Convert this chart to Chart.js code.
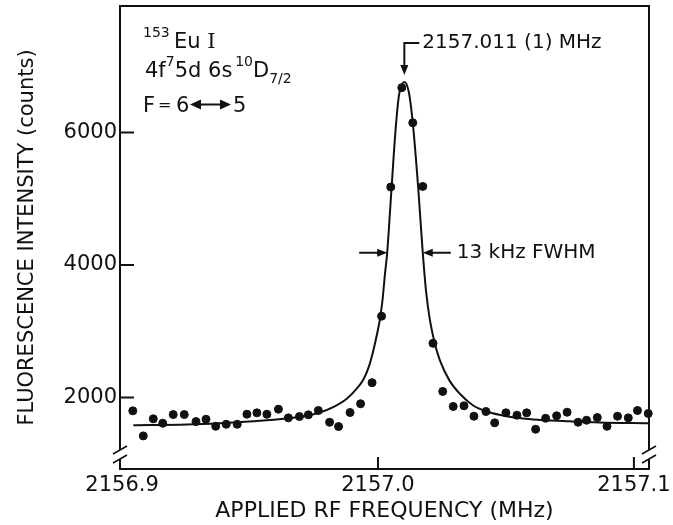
<!DOCTYPE html>
<html>
<head>
<meta charset="utf-8">
<script src="https://cdn.jsdelivr.net/npm/chart.js@4.4.1/dist/chart.umd.min.js"></script>
<style>
  html, body { margin: 0; padding: 0; background: #fff; }
  canvas { display: block; }
</style>
</head>
<body>
<canvas id="euChart" width="673" height="525"></canvas>
<script>
// measured points (frequency in MHz, fluorescence counts)
const dotFreq = [
    2156.9042, 2156.9083, 2156.9122, 2156.9159, 2156.9200, 2156.9243, 2156.9289, 2156.9328,
    2156.9366, 2156.9407, 2156.9450, 2156.9488, 2156.9527, 2156.9566, 2156.9611, 2156.9650,
    2156.9693, 2156.9728, 2156.9767, 2156.9811, 2156.9846, 2156.9891, 2156.9932, 2156.9977,
    2157.0014, 2157.0050, 2157.0093, 2157.0136, 2157.0175, 2157.0215,
    2157.0253, 2157.0294, 2157.0336, 2157.0375, 2157.0422, 2157.0456, 2157.0500, 2157.0543,
    2157.0581, 2157.0616, 2157.0655, 2157.0698, 2157.0739, 2157.0782, 2157.0815, 2157.0857,
    2157.0895, 2157.0936, 2157.0978, 2157.1014, 2157.1056
];
const dotCounts = [
    1798, 1420, 1677, 1611, 1742, 1742, 1636, 1671,
    1565, 1595, 1595, 1747, 1768, 1747, 1823, 1692,
    1712, 1738, 1803, 1626, 1561, 1773, 1905, 2223,
    3227, 5177, 6677, 6147, 5186, 2818,
    2091, 1864, 1874, 1717, 1788, 1617, 1768, 1732,
    1768, 1520, 1686, 1723, 1777, 1626, 1656, 1697,
    1565, 1717, 1692, 1803, 1758
];

// fitted line
const fitFreq = [
    2156.9044, 2156.9253, 2156.9383, 2156.9513, 2156.9643, 2156.9721, 2156.9773, 2156.9825,
    2156.9878, 2156.9917, 2156.9943, 2156.9963, 2156.9980, 2156.9996, 2157.0008, 2157.0018,
    2157.0027, 2157.0036, 2157.0052, 2157.0069, 2157.0082, 2157.0103, 2157.0121, 2157.0136,
    2157.0157, 2157.0175, 2157.0188, 2157.0203, 2157.0223, 2157.0242, 2157.0279, 2157.0320,
    2157.0372, 2157.0425, 2157.0503, 2157.0607, 2157.0737, 2157.0867, 2157.1056
];
const fitCounts = [
    1580, 1591, 1611, 1641, 1682, 1723, 1773, 1853,
    1980, 2132, 2270, 2450, 2680, 2950, 3190, 3480,
    3850, 4186, 5100, 6050, 6560, 6762, 6601, 6147,
    5177, 4186, 3600, 3167, 2800, 2560, 2258, 2056,
    1879, 1788, 1717, 1667, 1641, 1621, 1611
];

const xTicks = [2156.9, 2157.0, 2157.1];
const yTicks = [2000, 4000, 6000];

const peakFreq = 2157.0103;
const halfMax = 4186;
const halfLeft = 2157.0036;
const halfRight = 2157.0175;

const INK = '#111';
const FONT = '"DejaVu Sans"';

function rich(ctx, x, base, parts) {
    parts.forEach(p => {
        const [text, size, dy, fam] = p;
        ctx.font = `${size}px ${fam || FONT}`;
        ctx.fillText(text, x, base + (dy || 0));
        x += ctx.measureText(text).width;
    });
    return x;
}

function head(ctx, tx, ty, dx, dy, len = 10, hw = 4) {
    // filled arrow head pointing along (dx, dy)
    const px = -dy, py = dx;
    ctx.beginPath();
    ctx.moveTo(tx, ty);
    ctx.lineTo(tx - dx * len + px * hw, ty - dy * len + py * hw);
    ctx.lineTo(tx - dx * len - px * hw, ty - dy * len - py * hw);
    ctx.closePath();
    ctx.fill();
}

const framePlugin = {
    id: 'frame',
    beforeDraw(chart) {
        const { ctx } = chart;
        ctx.save();
        ctx.fillStyle = '#fff';
        ctx.fillRect(0, 0, chart.width, chart.height);
        ctx.restore();
    },
    afterDraw(chart) {
        const { ctx, chartArea: a, scales: { x, y } } = chart;
        ctx.save();
        ctx.strokeStyle = INK;
        ctx.fillStyle = INK;
        ctx.lineWidth = 2;

        // frame, broken near the bottom on both sides
        const g1 = a.bottom - 19, g2 = a.bottom - 10;
        ctx.beginPath();
        ctx.moveTo(a.left, g1); ctx.lineTo(a.left, a.top);
        ctx.lineTo(a.right, a.top); ctx.lineTo(a.right, g1);
        ctx.moveTo(a.left, g2); ctx.lineTo(a.left, a.bottom);
        ctx.lineTo(a.right, a.bottom); ctx.lineTo(a.right, g2);
        ctx.stroke();

        ctx.lineWidth = 1.6;
        ctx.beginPath();
        [a.left, a.right].forEach(bx => {
            [g1, g2].forEach(gy => {
                ctx.moveTo(bx - 7, gy + 4);
                ctx.lineTo(bx + 7, gy - 4);
            });
        });
        ctx.stroke();

        // inward tick marks
        ctx.lineWidth = 2;
        ctx.beginPath();
        yTicks.forEach(v => {
            const py = y.getPixelForValue(v);
            ctx.moveTo(a.left, py); ctx.lineTo(a.left + 14, py);
        });
        xTicks.slice(1).forEach(v => {
            const px = x.getPixelForValue(v);
            ctx.moveTo(px, a.bottom); ctx.lineTo(px, a.bottom - 12);
        });
        ctx.stroke();

        // species / transition block
        ctx.textAlign = 'left';
        ctx.textBaseline = 'alphabetic';
        rich(ctx, 143, 48, [['153', 14, -11], ['\u2009Eu ', 21], ['I', 21, 0, '"DejaVu Serif"']]);
        rich(ctx, 145, 77, [['4f', 21], ['7', 14, -11], ['5d 6s', 21], [' ', 9], ['10', 14, -11], ['D', 21], ['7/2', 14, 6]]);
        rich(ctx, 143, 112, [['F', 21]]);
        rich(ctx, 158, 110, [['=', 16]]);
        rich(ctx, 176, 112, [['6', 21]]);
        rich(ctx, 233, 112, [['5', 21]]);
        ctx.lineWidth = 2;
        ctx.beginPath();
        ctx.moveTo(198, 104.5); ctx.lineTo(223, 104.5);
        ctx.stroke();
        head(ctx, 190, 104.5, -1, 0, 11, 5);
        head(ctx, 231, 104.5, 1, 0, 11, 5);

        // peak marker
        const pk = x.getPixelForValue(peakFreq);
        const tipY = y.getPixelForValue(6870);
        const topY = y.getPixelForValue(7350);
        ctx.beginPath();
        ctx.moveTo(pk + 15, topY); ctx.lineTo(pk, topY); ctx.lineTo(pk, tipY - 8);
        ctx.stroke();
        head(ctx, pk, tipY, 0, 1);
        ctx.textBaseline = 'middle';
        ctx.font = `20px ${FONT}`;
        ctx.fillText('2157.011 (1) MHz', pk + 18, topY);

        // FWHM arrows
        const hy = y.getPixelForValue(halfMax);
        const hl = x.getPixelForValue(halfLeft);
        const hr = x.getPixelForValue(halfRight);
        ctx.beginPath();
        ctx.moveTo(hl - 28, hy); ctx.lineTo(hl - 8, hy);
        ctx.moveTo(hr + 28, hy); ctx.lineTo(hr + 8, hy);
        ctx.stroke();
        head(ctx, hl, hy, 1, 0);
        head(ctx, hr, hy, -1, 0);
        ctx.fillText('13 kHz FWHM', hr + 34, hy);
        ctx.restore();
    }
};

new Chart(document.getElementById('euChart'), {
    type: 'scatter',
    data: {
        datasets: [
            {
                label: 'data',
                data: dotFreq.map((f, i) => ({ x: f, y: dotCounts[i] })),
                pointRadius: 4,
                pointBackgroundColor: INK,
                pointBorderColor: INK,
                pointBorderWidth: 1,
                showLine: false,
                clip: false,
                order: 0
            },
            {
                label: 'fit',
                data: fitFreq.map((f, i) => ({ x: f, y: fitCounts[i] })),
                showLine: true,
                borderColor: INK,
                borderWidth: 2,
                pointRadius: 0,
                cubicInterpolationMode: 'monotone',
                order: 1
            }
        ]
    },
    options: {
        responsive: false,
        animation: false,
        layout: { padding: { left: 0, right: 24, top: 6, bottom: 0 } },
        plugins: {
            legend: { display: false },
            tooltip: { enabled: false }
        },
        scales: {
            x: {
                type: 'linear',
                min: 2156.8992,
                max: 2157.1059,
                grid: { display: false, drawTicks: false },
                border: { display: false },
                afterBuildTicks: s => { s.ticks = xTicks.map(v => ({ value: v })); },
                afterFit: s => { s.height = 56; s.paddingLeft = 0; s.paddingRight = 0; },
                ticks: {
                    color: INK,
                    padding: 4,
                    maxRotation: 0,
                    autoSkip: false,
                    font: { family: 'DejaVu Sans', size: 21 },
                    callback: v => v.toFixed(1)
                },
                title: {
                    display: true,
                    text: 'APPLIED RF FREQUENCY (MHz)',
                    color: INK,
                    font: { family: 'DejaVu Sans', size: 22 },
                    padding: { top: 0, bottom: 1 }
                }
            },
            y: {
                type: 'linear',
                min: 920,
                max: 7910,
                grid: { display: false, drawTicks: false },
                border: { display: false },
                afterBuildTicks: s => { s.ticks = yTicks.map(v => ({ value: v })); },
                afterFit: s => { s.width = 120; s.paddingTop = 0; s.paddingBottom = 0; },
                ticks: {
                    color: INK,
                    padding: 3,
                    font: { family: 'DejaVu Sans', size: 21 },
                    callback: v => String(v)
                },
                title: {
                    display: true,
                    text: 'FLUORESCENCE INTENSITY (counts)',
                    color: INK,
                    font: { family: 'DejaVu Sans', size: 21 },
                    padding: { top: 15, bottom: 0 }
                }
            }
        }
    },
    plugins: [framePlugin]
});
</script>
</body>
</html>
